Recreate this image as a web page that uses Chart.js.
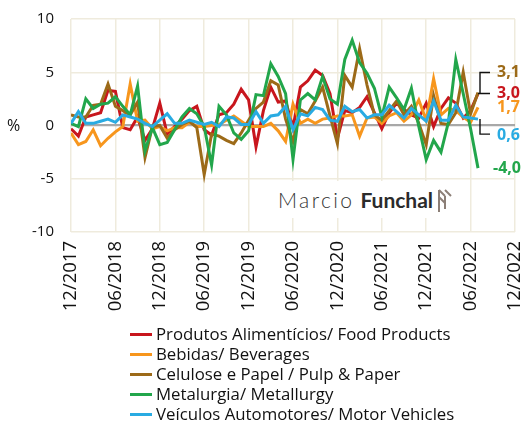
<!DOCTYPE html>
<html><head><meta charset="utf-8">
<script src="https://cdn.jsdelivr.net/npm/chart.js@4"></script>
<style>
html,body{margin:0;padding:0;background:#fff;}
#wrap{position:relative;width:529px;height:422px;overflow:hidden;}
#c{position:absolute;left:0;top:0;}
#pct{position:absolute;left:7px;top:114px;font-family:'Open Sans';font-size:16px;color:#111;}
#legend{position:absolute;left:130px;top:324px;font-family:'Open Sans';font-size:16.8px;color:#111;}
#legend .row{height:20px;line-height:20px;display:flex;align-items:center;white-space:nowrap;}
#legend .sw{display:inline-block;width:22px;height:3px;margin-right:4px;}
#wm{position:absolute;left:270px;top:181px;width:192px;height:37px;background:#fff;display:flex;align-items:center;}
#wm .a{font-family:Lato,'Open Sans';font-weight:300;font-size:21px;letter-spacing:2.4px;color:#333;margin-left:8px;}
#wm .b{font-family:Lato,'Open Sans';font-weight:700;font-size:21px;color:#2b2b2b;margin-left:6px;}
</style></head>
<body>
<div id="wrap">
<canvas id="c" width="529" height="422"></canvas>
<div id="pct">%</div>
<div id="wm"><span class="a">Marcio</span><span class="b">Funchal</span>
<svg width="20" height="26" viewBox="0 0 20 26" style="margin-left:2px"><g stroke="#8c7f77" stroke-width="2" fill="none"><path d="M4 25 V3"/><path d="M4 3 L10 9"/><path d="M4 10 L10 16"/><path d="M10 3 L16 9"/><path d="M10 9 V22"/></g></svg>
</div>
<div id="legend"></div>
</div>
<script>
const tickLabels = ['12/2017','06/2018','12/2018','06/2019','12/2019','06/2020','12/2020','06/2021','12/2021','06/2022','12/2022'];
const seriesNames = ['Produtos Alimentícios/ Food Products','Bebidas/ Beverages','Celulose e Papel / Pulp & Paper','Metalurgia/ Metallurgy','Veículos Automotores/ Motor Vehicles'];
const seriesColors = ['#c8161d','#f7961d','#9c6a18','#22a64b','#29abe2'];
// monthly values from 12/2017 to 07/2022
const food = [-0.3,-1.0,0.8,1.0,1.2,3.3,3.2,-0.2,-0.4,0.8,-1.4,-0.3,2.1,-0.8,-0.1,0.6,1.4,1.8,-0.4,-0.9,1.0,1.2,2.0,3.4,2.4,-2.0,1.4,3.6,2.2,2.3,-0.2,3.6,4.2,5.2,4.7,3.0,-1.2,1.4,1.2,1.7,2.7,1.2,-0.3,1.2,2.1,1.5,1.0,0.7,2.1,-0.1,1.6,2.6,2.1,0.7,1.4,3.0];
const beverages = [-0.7,-1.8,-1.5,-0.4,-1.9,-1.2,-0.6,-0.1,3.9,0.4,0.5,-0.3,-0.1,-0.5,-0.2,-0.2,0.3,-0.1,-0.1,0.0,0.1,0.5,0.9,0.4,-0.1,-0.1,-0.1,0.2,-0.5,-1.5,2.0,0.2,0.6,0.2,0.6,0.7,0.9,0.9,1.0,-1.0,0.7,0.8,0.2,0.9,1.2,0.4,1.0,2.4,0.5,4.4,1.0,1.6,1.4,0.8,0.3,1.7];
const pulpPaper = [1.0,0.8,0.8,1.9,2.0,3.9,1.8,1.4,1.0,2.2,-3.0,-0.1,0.0,-1.2,-0.4,0.1,0.4,-0.2,-4.6,-0.8,-1.0,-1.4,-1.7,-0.7,0.5,1.6,2.2,4.2,3.8,0.6,-1.5,1.5,1.1,2.3,3.6,0.9,-1.7,4.7,3.6,7.2,3.8,1.0,0.5,1.4,2.3,1.0,1.8,0.2,-1.8,2.8,0.2,0.1,1.2,5.0,1.1,3.1];
const metallurgy = [0.2,-0.1,2.5,1.6,2.0,2.1,2.7,1.8,1.0,3.7,-2.4,-0.2,-1.8,-1.6,-0.4,0.8,1.6,1.1,-0.1,-3.7,1.8,1.0,-0.7,-1.3,-0.5,2.9,2.8,5.8,4.6,3.0,-3.2,2.4,3.0,2.4,4.6,2.5,2.0,6.2,8.0,5.9,4.9,3.5,0.8,3.6,2.6,1.5,3.5,-0.1,-3.2,-1.4,-2.5,0.3,6.2,3.0,-0.3,-4.0];
const vehicles = [0.2,1.3,0.2,0.2,0.4,0.6,0.3,1.0,0.8,0.6,0.2,-0.1,0.5,1.1,0.2,0.2,0.5,0.3,0.1,0.3,-0.1,0.8,0.7,0.1,0.1,1.3,0.2,0.9,1.0,1.8,-0.4,1.1,0.9,1.7,1.5,0.5,0.4,1.8,1.3,1.5,0.7,1.0,1.0,1.9,1.3,0.7,1.6,1.0,0.4,2.3,0.5,0.5,1.9,0.8,0.7,0.6];
const allSeries = [food, beverages, pulpPaper, metallurgy, vehicles];

// legend
const lg = document.getElementById('legend');
seriesNames.forEach((n,i)=>{
  const r = document.createElement('div'); r.className='row';
  const s = document.createElement('span'); s.className='sw'; s.style.background = seriesColors[i];
  r.appendChild(s); r.appendChild(document.createTextNode(n)); lg.appendChild(r);
});

const fmt = v => v.toFixed(1).replace('.', ',');
const endLabels = {
  id:'endLabels',
  afterDatasetsDraw(chart){
    const ctx = chart.ctx;
    const last = i => { const d = chart.getDatasetMeta(i).data; return d[d.length-1]; };
    const pr = last(0), po = last(1), pb = last(2), pg = last(3), pv = last(4);
    ctx.save();
    ctx.strokeStyle = '#111'; ctx.lineWidth = 1.4;
    ctx.beginPath();
    ctx.moveTo(pr.x, pr.y); ctx.lineTo(pr.x+12, pr.y);
    ctx.moveTo(pr.x+2, pr.y); ctx.lineTo(pr.x+2, pr.y-21); ctx.lineTo(pr.x+12, pr.y-21);
    ctx.moveTo(pv.x+2, pv.y); ctx.lineTo(pv.x+2, pv.y+15); ctx.lineTo(pv.x+12, pv.y+15);
    ctx.stroke();
    ctx.font = 'bold 16px "Open Sans"';
    ctx.textBaseline = 'middle'; ctx.textAlign = 'left';
    const lbl = (i, x, y) => { ctx.fillStyle = seriesColors[i]; const a = allSeries[i]; ctx.fillText(fmt(a[a.length-1]), x, y); };
    lbl(2, pr.x+19, pr.y-21);
    lbl(0, pr.x+19, pr.y);
    lbl(1, po.x+19, po.y);
    lbl(4, pv.x+19, pv.y+16);
    lbl(3, pg.x+15, pg.y);
    ctx.restore();
  }
};

const gridCol = '#efebdd';
new Chart(document.getElementById('c'), {
  type:'line',
  data:{ datasets: allSeries.map((s,i)=>({
    label: seriesNames[i],
    data: s.map((v,k)=>({x:k, y:v})),
    borderColor: seriesColors[i], backgroundColor: seriesColors[i],
    borderWidth: 3, pointRadius: 0, tension: 0, fill:false,
    order: 5-i
  }))},
  options:{
    responsive:false, animation:false,
    layout:{padding:{top:19, right:14, left:0, bottom:0}},
    plugins:{legend:{display:false}, tooltip:{enabled:false}},
    scales:{
      x:{ type:'linear', min:0, max:60,
        afterBuildTicks: s => { s.ticks = tickLabels.map((t,i)=>({value:i*6})); },
        ticks:{ autoSkip:false, minRotation:90, maxRotation:90, padding:9, color:'#111',
          font:{family:'Open Sans', size:18.5}, callback: v => tickLabels[Math.round(v/6)] },
        grid:{ color:gridCol, lineWidth:1.5, drawTicks:false },
        border:{display:false},
        afterFit: s => { s.height = 190; s.paddingLeft = 0; s.paddingRight = 0; }
      },
      y:{ min:-10, max:10,
        ticks:{ stepSize:5, padding:17, color:'#111', font:{family:'Open Sans', size:15} },
        grid:{ color: c => c.tick && c.tick.value===0 ? '#a8a8a8' : gridCol,
               lineWidth: c => c.tick && c.tick.value===0 ? 2.2 : 1.5, drawTicks:false },
        border:{display:false},
        afterFit: s => { s.width = 71; s.paddingTop = 0; s.paddingBottom = 0; }
      }
    }
  },
  plugins:[endLabels]
});
</script>
</body></html>
